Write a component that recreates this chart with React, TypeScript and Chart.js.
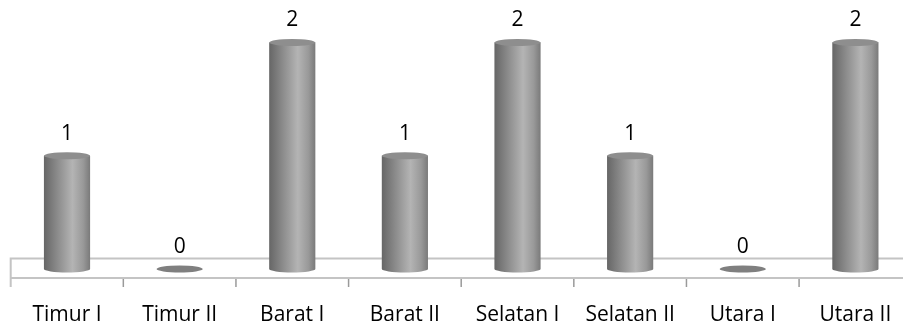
import React, { useEffect, useRef } from "react";
import { Chart, registerables } from "chart.js";

Chart.register(...registerables);

const categories = ["Timur I", "Timur II", "Barat I", "Barat II", "Selatan I", "Selatan II", "Utara I", "Utara II"];
const values = [1, 0, 2, 1, 2, 1, 0, 2];

const FONT = "'Open Sans', 'DejaVu Sans', sans-serif";

const cylinderPlugin = {
  id: "cylinders",
  beforeDatasetsDraw(chart: any) {
    const { ctx, chartArea } = chart;
    const xs = chart.scales.x;
    const base = chart.scales.y.getPixelForValue(0);
    ctx.save();
    ctx.strokeStyle = "#c4c4c4";
    ctx.lineWidth = 2;
    const left = chartArea.left;
    const right = chartArea.right + 20;
    const top = base - 10.5;
    const bot = base + 9;
    ctx.beginPath();
    ctx.moveTo(right, top);
    ctx.lineTo(left, top);
    ctx.lineTo(left, base + 18);
    ctx.moveTo(left, bot);
    ctx.lineTo(right, bot);
    ctx.stroke();
    ctx.lineWidth = 1.5;
    ctx.strokeStyle = "#9a9a9a";
    const n = categories.length;
    for (let i = 1; i < n; i++) {
      const xb = (xs.getPixelForValue(i - 1) + xs.getPixelForValue(i)) / 2;
      ctx.beginPath();
      ctx.moveTo(xb, bot + 1);
      ctx.lineTo(xb, base + 18);
      ctx.stroke();
    }
    ctx.restore();
  },
  afterDatasetsDraw(chart: any) {
    const { ctx } = chart;
    const meta = chart.getDatasetMeta(0);
    ctx.save();
    meta.data.forEach((el: any, i: number) => {
      const x = el.x;
      const top = el.y;
      const base = el.base;
      const w = el.width;
      const rx = w / 2;
      const ry = 3.5;
      const v = values[i];
      if (v === 0) {
        ctx.fillStyle = "#7f7f7f";
        ctx.beginPath();
        ctx.ellipse(x, base, rx, ry, 0, 0, Math.PI * 2);
        ctx.fill();
      } else {
        const g = ctx.createLinearGradient(x - rx, 0, x + rx, 0);
        g.addColorStop(0, "#666666");
        g.addColorStop(0.3, "#8c8c8c");
        g.addColorStop(0.62, "#b4b4b4");
        g.addColorStop(0.85, "#999999");
        g.addColorStop(1, "#7a7a7a");
        ctx.fillStyle = g;
        ctx.beginPath();
        ctx.moveTo(x - rx, top);
        ctx.lineTo(x - rx, base);
        ctx.ellipse(x, base, rx, ry, 0, Math.PI, 0, true);
        ctx.lineTo(x + rx, top);
        ctx.closePath();
        ctx.fill();
        ctx.fillStyle = "#8e8e8e";
        ctx.beginPath();
        ctx.ellipse(x, top, rx, ry, 0, 0, Math.PI * 2);
        ctx.fill();
      }
      ctx.fillStyle = "#000000";
      ctx.font = "21px " + FONT;
      ctx.textAlign = "center";
      ctx.textBaseline = "alphabetic";
      ctx.fillText(String(v), x, top - 16);
    });
    ctx.restore();
  },
};

export default function App() {
  const ref = useRef<HTMLCanvasElement | null>(null);
  useEffect(() => {
    if (!ref.current) return;
    const chart = new Chart(ref.current, {
      type: "bar",
      data: {
        labels: categories,
        datasets: [
          {
            data: values,
            backgroundColor: "rgba(0,0,0,0)",
            borderWidth: 0,
            barPercentage: 0.82,
            categoryPercentage: 0.5,
          },
        ],
      },
      options: {
        responsive: false,
        animation: false,
        events: [],
        layout: { padding: { left: 10.7, right: 8.3, top: 0, bottom: 0 } },
        plugins: { legend: { display: false }, tooltip: { enabled: false } },
        scales: {
          x: {
            grid: { display: false },
            border: { display: false },
            afterFit: (scale: any) => {
              scale.height = 58;
            },
            ticks: { padding: 25, color: "#000000", font: { family: FONT, size: 21 }, maxRotation: 0, autoSkip: false },
          },
          y: { display: false, min: 0, max: 2.375 },
        },
      },
      plugins: [cylinderPlugin],
    });
    return () => chart.destroy();
  }, []);
  return (
    <div style={{ position: "absolute", left: 0, top: 0, width: 903, height: 327, overflow: "hidden", background: "#ffffff" }}>
      <canvas ref={ref} width={920} height={327} style={{ width: 920, height: 327, display: "block" }} />
    </div>
  );
}
